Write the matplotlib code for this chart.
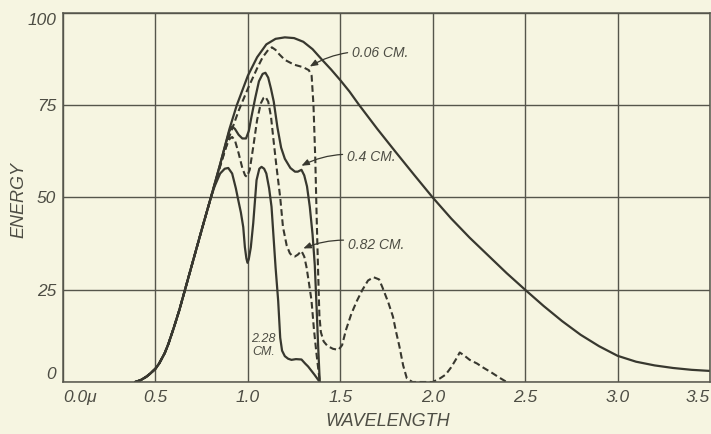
import matplotlib
matplotlib.use("Agg")
import matplotlib.pyplot as plt

# Energy distribution after passing through water layers of several thicknesses
# Full (unabsorbed) spectrum
env_x = [0.39, 0.42, 0.45, 0.47, 0.50, 0.52, 0.55, 0.57, 0.60, 0.63, 0.66, 0.70, 0.75, 0.80,
         0.85, 0.90, 0.94, 1.00, 1.05, 1.10, 1.15, 1.20, 1.25, 1.30, 1.35, 1.40, 1.45, 1.50,
         1.55, 1.60, 1.70, 1.80, 1.90, 2.00, 2.10, 2.20, 2.30, 2.40, 2.50, 2.60, 2.70, 2.80,
         2.90, 3.00, 3.10, 3.20, 3.30, 3.40, 3.50]
env_y = [0.0, 0.5, 1.4, 2.2, 3.6, 5.0, 7.8, 10.3, 14.8, 19.6, 25.0, 32.2, 41.2, 50.0,
         59.0, 68.5, 75.0, 83.0, 88.0, 91.5, 93.0, 93.4, 93.2, 92.2, 90.2, 87.4, 84.7, 81.8,
         78.7, 75.2, 68.6, 62.3, 56.1, 50.0, 44.3, 39.1, 34.3, 29.5, 25.0, 20.6, 16.5, 12.8,
         9.7, 7.1, 5.5, 4.5, 3.8, 3.3, 3.0]

# 0.06 cm layer
w006_x = [0.39, 0.42, 0.45, 0.47, 0.50, 0.52, 0.55, 0.57, 0.60, 0.63, 0.66, 0.70, 0.75, 0.80,
          0.85, 0.90, 0.95, 1.00, 1.05, 1.08, 1.11, 1.13, 1.15, 1.17, 1.20, 1.25, 1.30, 1.33,
          1.345, 1.355, 1.365, 1.372, 1.38, 1.387, 1.395, 1.41, 1.43, 1.46, 1.49, 1.51, 1.53,
          1.56, 1.59, 1.62, 1.65, 1.68, 1.71, 1.73, 1.76, 1.785, 1.80, 1.82, 1.84, 1.86, 1.89,
          1.95, 2.00, 2.04, 2.07, 2.10, 2.13, 2.146, 2.17, 2.20, 2.24, 2.27, 2.32, 2.36, 2.40]
w006_y = [0.0, 0.5, 1.4, 2.2, 3.6, 5.0, 7.8, 10.3, 14.8, 19.6, 25.0, 32.2, 41.2, 50.0,
          58.5, 66.5, 73.5, 79.5, 85.0, 88.0, 90.0, 90.7, 90.0, 88.8, 87.3, 86.0, 85.3, 84.5,
          83.0, 75.0, 60.0, 45.0, 30.0, 18.0, 13.5, 11.0, 9.8, 9.0, 8.7, 10.0, 14.0,
          18.5, 22.0, 25.0, 27.5, 28.4, 27.8, 25.4, 21.5, 17.7, 14.0, 9.6, 4.5, 1.0, 0.0,
          0.0, 0.0, 1.0, 2.0, 4.0, 6.5, 8.0, 7.2, 6.0, 5.0, 4.0, 2.5, 1.2, 0.0]

# 0.4 cm layer
w04_x = [0.39, 0.42, 0.45, 0.47, 0.50, 0.52, 0.55, 0.57, 0.60, 0.63, 0.66, 0.70, 0.75, 0.80,
         0.85, 0.88, 0.90, 0.915, 0.93, 0.95, 0.97, 0.99, 1.005, 1.02, 1.04, 1.06, 1.08, 1.095,
         1.11, 1.125, 1.14, 1.16, 1.18, 1.20, 1.23, 1.255, 1.27, 1.29, 1.305, 1.32, 1.335,
         1.35, 1.362, 1.372, 1.38, 1.389]
w04_y = [0.0, 0.5, 1.4, 2.2, 3.6, 5.0, 7.8, 10.3, 14.8, 19.6, 25.0, 32.2, 41.2, 50.0,
         59.0, 64.5, 68.0, 69.2, 68.6, 67.0, 66.0, 66.0, 68.0, 72.0, 77.0, 81.5, 83.5, 83.8,
         82.5, 79.5, 76.0, 69.0, 63.5, 60.5, 58.0, 57.0, 57.0, 57.5, 56.0, 53.0, 47.5,
         40.0, 31.7, 20.0, 10.0, 0.0]

# 0.82 cm layer
w082_x = [0.39, 0.42, 0.45, 0.47, 0.50, 0.52, 0.55, 0.57, 0.60, 0.63, 0.66, 0.70, 0.75, 0.80,
          0.85, 0.88, 0.90, 0.915, 0.93, 0.95, 0.97, 0.985, 0.995, 1.01, 1.03, 1.05, 1.07,
          1.085, 1.095, 1.11, 1.125, 1.14, 1.155, 1.175, 1.19, 1.21, 1.227, 1.24, 1.254, 1.27,
          1.29, 1.305, 1.317, 1.33, 1.344, 1.358, 1.371, 1.389]
w082_y = [0.0, 0.5, 1.4, 2.2, 3.6, 5.0, 7.8, 10.3, 14.8, 19.6, 25.0, 32.2, 41.2, 50.0,
          58.5, 63.5, 65.8, 66.4, 65.5, 62.0, 58.0, 56.0, 55.6, 57.5, 64.0, 71.0, 75.5,
          77.0, 77.3, 76.0, 72.0, 65.0, 58.3, 50.0, 42.0, 37.0, 34.9, 34.2, 34.0, 34.5,
          35.5, 34.0, 31.2, 27.0, 22.2, 14.0, 7.8, 0.0]

# 2.28 cm layer
w228_x = [0.39, 0.42, 0.45, 0.47, 0.50, 0.52, 0.55, 0.57, 0.60, 0.63, 0.66, 0.70, 0.75, 0.80,
          0.82, 0.85, 0.875, 0.894, 0.915, 0.935, 0.948, 0.962, 0.975, 0.984, 0.992, 0.998,
          1.005, 1.016, 1.029, 1.047, 1.062, 1.074, 1.088, 1.10, 1.115, 1.128, 1.14, 1.15,
          1.164, 1.175, 1.185, 1.20, 1.218, 1.236, 1.26, 1.29, 1.31, 1.326, 1.36, 1.389]
w228_y = [0.0, 0.5, 1.4, 2.2, 3.6, 5.0, 7.8, 10.3, 14.8, 19.6, 25.0, 32.2, 41.2, 50.0,
          53.0, 56.5, 57.8, 58.0, 56.5, 52.5, 49.3, 46.0, 42.0, 36.5, 33.5, 32.3,
          33.3, 36.5, 43.0, 54.7, 57.8, 58.3, 57.8, 56.5, 52.5, 47.5, 38.5, 31.0,
          22.0, 12.0, 8.5, 7.0, 6.3, 6.0, 6.2, 6.1, 5.0, 4.2, 2.0, 0.0]

x_ticks = [0.0, 0.5, 1.0, 1.5, 2.0, 2.5, 3.0, 3.5]
x_ticklabels = ["0.0\u03bc", "0.5", "1.0", "1.5", "2.0", "2.5", "3.0", "3.5"]
y_ticks = [0, 25, 50, 75, 100]
y_ticklabels = ["0", "25", "50", "75", "100"]

PAPER = "#f6f5e1"
INK = "#38382f"
GRID = "#55554b"
TEXT = "#4d4d44"
FONT = ["Liberation Sans", "DejaVu Sans"]

fig = plt.figure(figsize=(7.11, 4.34), dpi=100, facecolor=PAPER)
ax = fig.add_axes([63 / 711, 52 / 434, 647 / 711, 369 / 434])
ax.set_facecolor(PAPER)

ax.set_xlim(0, 3.5)
ax.set_ylim(0, 100)
ax.set_xticks(x_ticks)
ax.set_yticks(y_ticks)
ax.set_xticklabels(x_ticklabels)
ax.set_yticklabels(y_ticklabels)
ax.grid(True, color=GRID, lw=1.0)
ax.set_axisbelow(True)
for s in ax.spines.values():
    s.set_color(GRID)
    s.set_linewidth(1.1)
ax.tick_params(length=0, labelsize=12.5, labelcolor=TEXT)
ax.tick_params(axis="x", pad=6)
ax.tick_params(axis="y", pad=5)
for lab in ax.get_xticklabels() + ax.get_yticklabels():
    lab.set_family(FONT)
    lab.set_style("italic")
xl = ax.get_xticklabels()
xl[0].set_horizontalalignment("left")
xl[-1].set_horizontalalignment("right")
yl = ax.get_yticklabels()
yl[0].set_verticalalignment("bottom")
yl[-1].set_verticalalignment("top")

solid = dict(color=INK, lw=1.6, solid_joinstyle="round", solid_capstyle="round")
dashed = dict(color=INK, lw=1.5, linestyle=(0, (3.2, 1.7)))

ax.plot(env_x, env_y, **solid)
ax.plot(w04_x, w04_y, **solid)
ax.plot(w228_x, w228_y, **solid)
ax.plot(w006_x, w006_y, **dashed)
ax.plot(w082_x, w082_y, **dashed)

arrow = dict(arrowstyle="-|>,head_length=0.45,head_width=0.18", lw=0.9, color=INK,
             connectionstyle="arc3,rad=0.18", shrinkA=1, shrinkB=0)
lab_kw = dict(fontsize=10, color=TEXT, style="italic", family=FONT, ha="left", va="center")
ax.annotate("0.06 CM.", xy=(1.335, 85.5), xytext=(1.562, 89.2), arrowprops=arrow, **lab_kw)
ax.annotate("0.4 CM.", xy=(1.29, 58.6), xytext=(1.535, 61.0), arrowprops=arrow, **lab_kw)
ax.annotate("0.82 CM.", xy=(1.30, 36.2), xytext=(1.54, 37.1), arrowprops=arrow, **lab_kw)
ax.text(1.086, 10.0, "2.28\nCM.", fontsize=9, color=TEXT, style="italic", family=FONT,
        ha="center", va="center", linespacing=1.1)

fig.text(19 / 711, 1 - 200 / 434, "ENERGY", rotation=90, ha="center", va="center",
         fontsize=13, color=TEXT, style="italic", family=FONT)
fig.text(388 / 711, 1 - 422 / 434, "WAVELENGTH", ha="center", va="center",
         fontsize=13, color=TEXT, style="italic", family=FONT)

fig.savefig("out.png", dpi=100, facecolor=PAPER)
